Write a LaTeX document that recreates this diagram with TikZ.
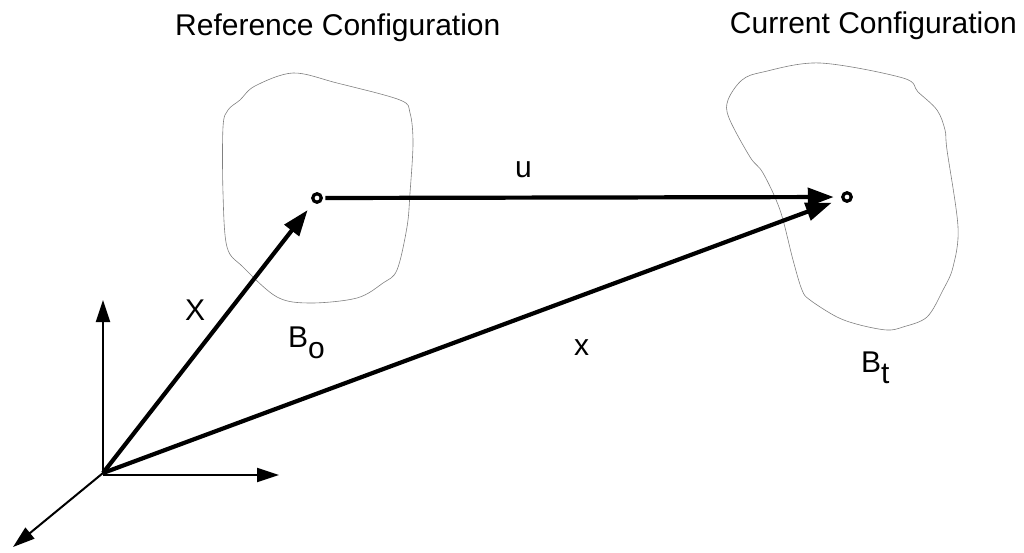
\documentclass[tikz,border=0pt]{standalone}
\usepackage{fontspec}
\setmainfont{Liberation Sans}
\usetikzlibrary{arrows.meta}
\begin{document}
\begin{tikzpicture}[x=1pt,y=-1pt,
  lbl/.style={inner sep=0pt,font=\fontsize{30}{34}\selectfont},
  vec/.style={line width=4.2pt,-{Triangle[length=26pt,width=18pt]}},
  axis/.style={line width=2pt,-{Triangle[length=22pt,width=14pt]}},
  blob/.style={draw=black!50,line width=0.6pt},
  pt/.style={circle,draw,line width=3.2pt,minimum size=8.5pt,inner sep=0pt,outer sep=0pt}]
\useasboundingbox (0,0) rectangle (1024,552);
% bodies
\draw[blob] plot[smooth cycle,tension=0.55] coordinates {(255,86) (293,73) (337,83) (400,100) (410,113) (413,143) (410,193) (407,227) (397,270) (383,283) (357,298) (310,303) (277,297) (243,267) (227,247) (223,193) (223,127) (228,110) (240,100)};
\draw[blob] plot[smooth cycle,tension=0.55] coordinates {(763,72) (820,63) (903,78) (918,92) (937,110) (945,130) (947,150) (958,227) (953,267) (943,290) (927,317) (903,327) (887,330) (860,325) (837,317) (810,300) (802,290) (793,260) (780,210) (763,173) (750,157) (729,118) (728,100) (742,80)};
% points
\coordinate (O) at (103,473);
\node[pt] (p0) at (317,198) {};
\node[pt] (p1) at (847,197) {};
\coordinate (ax) at (279,475);
\coordinate (ay) at (103,300);
\coordinate (az) at (13,547);
% axes
\draw[axis] (O) -- (ay);
\draw[axis] (103,475) -- (ax);
\draw[axis] (O) -- (az);
% vectors
\draw[vec,shorten >=11pt] (O) -- (p0);
\draw[vec,shorten >=12pt] (O) -- (p1);
\draw[vec,shorten <=4pt,shorten >=9pt] (p0) -- (p1);
% titles
\node[lbl,anchor=base west] (t1) at (175,35) {Reference Configuration};
\node[lbl,anchor=base east] (t2) at (1017,33) {Current Configuration};
% labels
\node[lbl,anchor=base west] (lu) at (515,177) {u};
\node[lbl,anchor=base west] (lX) at (185,320) {X};
\node[lbl,anchor=base west] (lx) at (574,355) {x};
\node[lbl,anchor=base west] (lB0) at (288,347) {B\raisebox{-11pt}{o}};
\node[lbl,anchor=base west] (lBt) at (861,372) {B\raisebox{-11pt}{t}};
\end{tikzpicture}
\end{document}
